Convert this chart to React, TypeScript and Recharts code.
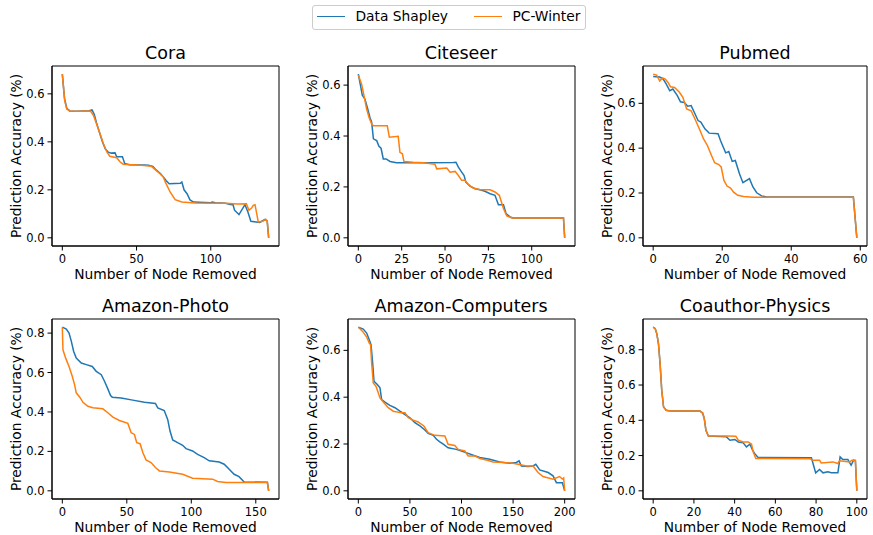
import { LineChart, Line, XAxis, YAxis, ReferenceArea } from "recharts";

type Pt = [number, number];

const BLUE = "#1f77b4";
const ORANGE = "#ff7f0e";
const FONT = "'DejaVu Sans', sans-serif";

// --- Cora ---
const coraShapley: Pt[] = [
  [0, 0.682], [1.5, 0.58], [3, 0.54], [5, 0.529], [10, 0.528], [18, 0.53], [20, 0.533],
  [21.5, 0.515], [23, 0.48], [25, 0.44], [27, 0.4], [29, 0.37], [31, 0.357], [33, 0.353],
  [35.5, 0.354], [36.6, 0.338], [40.5, 0.338], [42, 0.31], [45, 0.305], [55, 0.303],
  [58, 0.302], [61, 0.298], [63, 0.284], [66, 0.268], [68, 0.254], [70, 0.238], [72, 0.225],
  [79.5, 0.227], [80.5, 0.232], [82, 0.2], [84, 0.184], [86, 0.158], [88.4, 0.149],
  [100, 0.146], [101, 0.149], [103, 0.146], [110, 0.144], [113, 0.139], [115, 0.138],
  [116, 0.115], [119, 0.097], [123, 0.138], [125, 0.108], [127, 0.069], [133, 0.064],
  [136.5, 0.077], [138, 0.07], [139, 0],
];
const coraWinter: Pt[] = [
  [0, 0.682], [1.6, 0.572], [3, 0.537], [5, 0.528], [10, 0.527], [19, 0.528], [21, 0.51],
  [23, 0.475], [25.4, 0.434], [27.7, 0.392], [30, 0.358], [32, 0.34], [36.6, 0.334],
  [39, 0.316], [41, 0.307], [50, 0.304], [60, 0.298], [63, 0.282], [65.6, 0.268], [68, 0.254],
  [69.4, 0.232], [72.7, 0.19], [76, 0.159], [80.5, 0.149], [89.5, 0.145], [110, 0.144],
  [118, 0.141], [124, 0.142], [125.7, 0.115], [127.5, 0.124], [128.6, 0.135], [129.8, 0.138],
  [132, 0.066], [135, 0.069], [137, 0.077], [138, 0.07], [139, 0],
];

// --- Citeseer ---
const citeseerShapley: Pt[] = [
  [0, 0.643], [1.3, 0.597], [2.3, 0.56], [3.8, 0.545], [5.2, 0.512], [6.7, 0.473], [7.7, 0.454],
  [8.7, 0.389], [10.6, 0.382], [11.9, 0.36], [13.1, 0.352], [14.4, 0.31], [16, 0.31],
  [18.3, 0.3], [22, 0.295], [40, 0.295], [54.8, 0.296], [56.3, 0.297], [57.7, 0.278],
  [59.6, 0.258], [61, 0.245], [62, 0.219], [64.4, 0.203], [67.3, 0.193], [70.2, 0.189],
  [73, 0.183], [76, 0.173], [78.8, 0.167], [80.8, 0.13], [83.7, 0.13], [85.2, 0.095],
  [87.5, 0.082], [89.4, 0.078], [118.3, 0.078], [119, 0],
];
const citeseerWinter: Pt[] = [
  [0, 0.639], [1.9, 0.604], [3.3, 0.558], [4.8, 0.506], [6.2, 0.473], [7.7, 0.447], [8.7, 0.44],
  [16.7, 0.44], [17.9, 0.395], [23, 0.399], [24, 0.336], [25.4, 0.33], [26.3, 0.3],
  [31.7, 0.297], [37.5, 0.295], [44.2, 0.289], [45.2, 0.271], [51, 0.274], [52.9, 0.258],
  [55.8, 0.261], [57.7, 0.245], [59.6, 0.226], [61.5, 0.226], [63.5, 0.209], [66.3, 0.196],
  [70.2, 0.189], [76, 0.189], [78.8, 0.18], [81.3, 0.167], [83.7, 0.115], [85.6, 0.086],
  [88.5, 0.078], [118.3, 0.078], [119, 0],
];

// --- Pubmed ---
const pubmedShapley: Pt[] = [
  [0, 0.72], [1.9, 0.717], [2.9, 0.708], [3.8, 0.686], [4.8, 0.656], [5.7, 0.664], [7, 0.634],
  [7.9, 0.607], [9, 0.604], [10, 0.587], [11, 0.59], [11.9, 0.56], [13, 0.523], [13.8, 0.516],
  [15, 0.486], [16.2, 0.467], [18.8, 0.464], [19.5, 0.434], [21, 0.379], [21.9, 0.385],
  [22.9, 0.341], [23.8, 0.345], [25, 0.286], [26, 0.246], [27.9, 0.264], [28.9, 0.227],
  [30, 0.201], [31.4, 0.187], [32.9, 0.182], [58, 0.182], [59, 0],
];
const pubmedWinter: Pt[] = [
  [0, 0.73], [1, 0.726], [1.9, 0.7], [2.7, 0.713], [3.5, 0.708], [4.3, 0.693], [5, 0.674],
  [6.2, 0.671], [7.6, 0.649], [8.6, 0.627], [9.7, 0.575], [11, 0.567], [12.1, 0.53],
  [13.3, 0.489], [14.6, 0.441], [15.7, 0.412], [16.9, 0.367], [17.8, 0.335], [19, 0.327],
  [19.7, 0.316], [20.5, 0.256], [21.4, 0.231], [22.4, 0.222], [23.3, 0.204], [24.5, 0.19],
  [26.2, 0.184], [29, 0.181], [58, 0.181], [59, 0],
];

// --- Amazon-Photo ---
const photoShapley: Pt[] = [
  [0, 0.83], [3.1, 0.82], [5.2, 0.8], [7, 0.758], [8.8, 0.707], [10.8, 0.673], [14.7, 0.648],
  [18.6, 0.64], [23.2, 0.631], [26.3, 0.606], [30.2, 0.589], [32.7, 0.556], [35.3, 0.517],
  [37.4, 0.483], [38.7, 0.475], [45.6, 0.471], [54.6, 0.46], [63.7, 0.449], [72.2, 0.443],
  [74, 0.421], [79, 0.407], [81.7, 0.362], [83.5, 0.303], [85.6, 0.258], [89.4, 0.244],
  [93.3, 0.231], [95.9, 0.214], [101, 0.202], [104.9, 0.185], [110, 0.168], [113.9, 0.152],
  [121.6, 0.146], [125.5, 0.135], [129.4, 0.109], [133.2, 0.084], [137, 0.072], [141, 0.045],
  [159, 0.043], [160, 0],
];
const photoWinter: Pt[] = [
  [0, 0.83], [0.5, 0.715], [2.6, 0.673], [5.2, 0.631], [7.7, 0.581], [9.5, 0.539], [10.8, 0.497],
  [13.4, 0.476], [16, 0.449], [19.8, 0.429], [23.7, 0.421], [31.4, 0.416], [35.3, 0.396],
  [39.2, 0.374], [44.3, 0.357], [50.8, 0.342], [53.4, 0.295], [55.9, 0.286], [57.7, 0.244],
  [60.3, 0.239], [62.4, 0.194], [64.9, 0.157], [68.8, 0.143], [72.2, 0.118], [75.3, 0.101],
  [83, 0.096], [93.3, 0.084], [101, 0.064], [116.5, 0.059], [120.4, 0.047], [126.8, 0.042],
  [159, 0.042], [160, 0],
];

// --- Amazon-Computers ---
const computersShapley: Pt[] = [
  [0, 0.699], [4.8, 0.691], [8.1, 0.674], [10.6, 0.645], [12.3, 0.624], [13.9, 0.546],
  [15.2, 0.468], [18.4, 0.454], [21, 0.44], [22.6, 0.39], [25.8, 0.379], [30.6, 0.365],
  [35.5, 0.355], [40.3, 0.34], [45.2, 0.326], [50, 0.312], [54.8, 0.291], [59.7, 0.277],
  [64.5, 0.26], [67.7, 0.245], [72.6, 0.237], [75.8, 0.22], [79, 0.209], [82.3, 0.199],
  [87, 0.184], [95, 0.177], [100, 0.17], [106.5, 0.16], [111.3, 0.152], [117.7, 0.142],
  [127.4, 0.135], [137, 0.123], [146.8, 0.118], [153.2, 0.121], [155.8, 0.128], [158, 0.106],
  [164.5, 0.104], [169.4, 0.106], [172, 0.113], [175.8, 0.089], [184, 0.078], [188.7, 0.064],
  [192, 0.035], [197.7, 0.035], [200, 0],
];
const computersWinter: Pt[] = [
  [0, 0.699], [4.2, 0.681], [8.1, 0.657], [10.6, 0.631], [11.9, 0.624], [12.9, 0.546],
  [14.5, 0.461], [17.1, 0.447], [19.4, 0.418], [21, 0.397], [24.2, 0.379], [29, 0.355],
  [33.9, 0.34], [41.9, 0.333], [45.2, 0.333], [48.4, 0.312], [53.2, 0.302], [58, 0.294],
  [63.5, 0.277], [67.7, 0.248], [74.2, 0.237], [83.9, 0.234], [87, 0.199], [93.5, 0.194],
  [96.8, 0.177], [103.2, 0.17], [106.5, 0.149], [112.9, 0.149], [117.7, 0.138], [124.2, 0.132],
  [130.6, 0.123], [140.3, 0.121], [150, 0.118], [162.9, 0.106], [169.4, 0.106], [174.2, 0.078],
  [179, 0.061], [188.7, 0.05], [195, 0.061], [197.7, 0.05], [199, 0.055], [200, 0],
];

// --- Coauthor-Physics ---
const physicsShapley: Pt[] = [
  [0, 0.928], [1, 0.919], [1.8, 0.89], [2.6, 0.834], [3.4, 0.72], [4.2, 0.57], [5.1, 0.475],
  [6.4, 0.457], [8.3, 0.453], [23, 0.452], [24.3, 0.441], [25.1, 0.409], [25.9, 0.343],
  [27.1, 0.311], [36, 0.306], [37.7, 0.287], [40.1, 0.291], [41.8, 0.277], [44.2, 0.272],
  [45.8, 0.249], [47.5, 0.264], [48.8, 0.23], [49.9, 0.211], [51.5, 0.189], [77.7, 0.187],
  [78.5, 0.155], [79.8, 0.102], [81.7, 0.121], [83.4, 0.102], [85.8, 0.108], [87.4, 0.102],
  [90.7, 0.102], [91.8, 0.192], [93.1, 0.177], [95.6, 0.177], [97.2, 0.145], [98.4, 0.174],
  [99.3, 0.17], [100, 0],
];
const physicsWinter: Pt[] = [
  [0, 0.928], [1, 0.919], [1.8, 0.89], [2.6, 0.834], [3.4, 0.72], [4.2, 0.57], [5.1, 0.475],
  [6.4, 0.457], [8.3, 0.453], [23, 0.452], [24.3, 0.441], [25.1, 0.409], [25.9, 0.343],
  [27.1, 0.311], [36, 0.311], [40.6, 0.309], [41.8, 0.287], [44.2, 0.277], [46.7, 0.277],
  [48.3, 0.264], [49.1, 0.221], [50.4, 0.183], [52.4, 0.183], [77, 0.182], [78.5, 0.174],
  [81.7, 0.174], [82.5, 0.158], [88.3, 0.164], [90.7, 0.155], [91.5, 0.17], [96.4, 0.164],
  [97.7, 0.174], [99.3, 0.174], [100, 0],
];

const ticks50 = [0, 50, 100];
const ticks25 = [0, 25, 50, 75, 100];
const ticks20 = [0, 20, 40, 60];
const ticks150 = [0, 50, 100, 150];
const ticks200 = [0, 50, 100, 150, 200];
const ticks100 = [0, 20, 40, 60, 80, 100];
const yTicks6 = [0, 0.2, 0.4, 0.6];
const yTicks8 = [0, 0.2, 0.4, 0.6, 0.8];

const panels = [
  { title: "Cora", shapley: coraShapley, winter: coraWinter, xTicks: ticks50, yTicks: yTicks6, left: 52, top: 66, w: 227 },
  { title: "Citeseer", shapley: citeseerShapley, winter: citeseerWinter, xTicks: ticks25, yTicks: yTicks6, left: 347.5, top: 66, w: 227 },
  { title: "Pubmed", shapley: pubmedShapley, winter: pubmedWinter, xTicks: ticks20, yTicks: yTicks6, left: 643, top: 66, w: 224 },
  { title: "Amazon-Photo", shapley: photoShapley, winter: photoWinter, xTicks: ticks150, yTicks: yTicks8, left: 52, top: 319, w: 227 },
  { title: "Amazon-Computers", shapley: computersShapley, winter: computersWinter, xTicks: ticks200, yTicks: yTicks6, left: 347.5, top: 319, w: 227 },
  { title: "Coauthor-Physics", shapley: physicsShapley, winter: physicsWinter, xTicks: ticks100, yTicks: yTicks8, left: 643, top: 319, w: 224 },
];

const H = 180; // plot box height
const YW = 50; // y axis width
const XH = 45; // x axis height
const MT = 4;
const MR = 4;
const LABEL_SIZE = 13.8;
const TITLE_SIZE = 17.5;

const toRows = (pts: Pt[]) => pts.map(([x, y]) => ({ x, y }));

function Panel({ p }: { p: (typeof panels)[number] }) {
  const xmax = Math.max(...p.shapley.map((d) => d[0]), ...p.winter.map((d) => d[0]));
  const ymax = Math.max(...p.shapley.map((d) => d[1]), ...p.winter.map((d) => d[1]));
  const xDom: [number, number] = [-0.05 * xmax, 1.05 * xmax];
  const yDom: [number, number] = [-0.05 * ymax, 1.05 * ymax];
  const tickStyle = { fill: "#000", fontSize: 11.5 };

  return (
    <>
      <div
        style={{
          position: "absolute",
          left: p.left,
          top: p.top - 6 - 0.846 * TITLE_SIZE,
          width: p.w,
          textAlign: "center",
          fontSize: TITLE_SIZE,
          lineHeight: `${TITLE_SIZE}px`,
          color: "#000",
        }}
      >
        {p.title}
      </div>
      <div style={{ position: "absolute", left: p.left - YW, top: p.top - MT }}>
        <LineChart
          width={YW + p.w + MR}
          height={MT + H + XH}
          margin={{ top: MT, right: MR, left: 0, bottom: 0 }}
        >
          <XAxis
            type="number"
            dataKey="x"
            domain={xDom}
            ticks={p.xTicks}
            interval={0}
            allowDataOverflow
            height={XH}
            tickSize={4.5}
            tickMargin={4}
            stroke="#000"
            tick={tickStyle}
            label={{ value: "Number of Node Removed", position: "insideTop", offset: 23, fontSize: LABEL_SIZE, fill: "#000" }}
          />
          <YAxis
            type="number"
            dataKey="y"
            domain={yDom}
            ticks={p.yTicks}
            interval={0}
            allowDataOverflow
            width={YW}
            tickSize={4.5}
            tickMargin={3}
            stroke="#000"
            tick={tickStyle}
            tickFormatter={(v: number) => v.toFixed(1)}
            label={{
              value: "Prediction Accuracy (%)",
              angle: -90,
              position: "insideLeft",
              offset: 14,
              fontSize: LABEL_SIZE,
              fill: "#000",
              style: { textAnchor: "middle" },
            }}
          />
          <ReferenceArea
            x1={xDom[0]}
            x2={xDom[1]}
            y1={yDom[0]}
            y2={yDom[1]}
            fill="none"
            fillOpacity={0}
            stroke="#000"
            strokeWidth={1}
            ifOverflow="visible"
          />
          <Line
            data={toRows(p.shapley)}
            dataKey="y"
            type="linear"
            stroke={BLUE}
            strokeWidth={1.5}
            dot={false}
            isAnimationActive={false}
          />
          <Line
            data={toRows(p.winter)}
            dataKey="y"
            type="linear"
            stroke={ORANGE}
            strokeWidth={1.5}
            dot={false}
            isAnimationActive={false}
          />
        </LineChart>
      </div>
    </>
  );
}

function LegendBox() {
  const sample = (left: number, color: string) => (
    <div style={{ position: "absolute", left, top: 9.5, width: 28, height: 1.5, background: color }} />
  );
  const label = (left: number, text: string) => (
    <div style={{ position: "absolute", left, top: 3.5, fontSize: LABEL_SIZE, lineHeight: `${LABEL_SIZE}px`, whiteSpace: "nowrap" }}>
      {text}
    </div>
  );
  return (
    <div
      style={{
        position: "absolute",
        left: 311.5,
        top: 5,
        width: 272,
        height: 23,
        border: "1px solid #cccccc",
        borderRadius: 3,
        background: "#fff",
      }}
    >
      {sample(4, BLUE)}
      {label(43, "Data Shapley")}
      {sample(161, ORANGE)}
      {label(200, "PC-Winter")}
    </div>
  );
}

export default function App() {
  return (
    <div
      style={{
        position: "absolute",
        left: 0,
        top: 0,
        width: 873,
        height: 535,
        background: "#fff",
        fontFamily: FONT,
        color: "#000",
      }}
    >
      <LegendBox />
      {panels.map((p) => (
        <Panel key={p.title} p={p} />
      ))}
    </div>
  );
}
